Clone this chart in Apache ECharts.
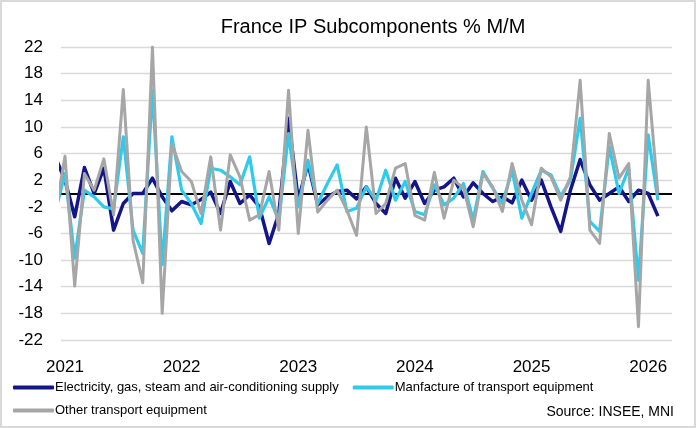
<!DOCTYPE html>
<html>
<head>
<meta charset="utf-8">
<script src="https://cdn.jsdelivr.net/npm/echarts@6/dist/echarts.min.js"></script>
<style>
  html, body { margin: 0; padding: 0; background: #fff; }
  #chart { width: 696px; height: 428px; box-sizing: border-box; border: 2px solid #d9d9d9; }
</style>
</head>
<body>
<div id="chart"></div>
<script>
// month index 0 = Jan 2021; first value is Dec 2020 (clipped at the plot edge)
const startIndex = -1;
const yearLabels = ["2021", "2022", "2023", "2024", "2025", "2026"];
const yTicks = [-22, -18, -14, -10, -6, -2, 2, 6, 10, 14, 18, 22];

const seriesNames = [
  "Electricity, gas, steam and air-conditioning supply",
  "Manfacture of transport equipment",
  "Other transport equipment"
];

// Dec 2020 .. Feb 2026
const electricity = [
  5.5, 2.0, -3.5, 3.9, 0.0, 3.8, -5.5, -1.5, 0.0, 0.0, 2.3, -0.5, -2.6,
  -1.2, -1.7, -0.9, 0.2, -3.0, 1.8, -1.5, -0.2, -2.0, -7.5, -3.0, 11.3,
  -1.0, 4.5, -1.7, -0.5, 0.3, 0.5, -0.8, 1.0, -1.5, -3.0, 2.3, -0.7,
  1.8, -1.5, 0.5, 1.0, 2.3, -0.5, 1.6, 0.0, -1.2, -0.5, -1.4, 2.0,
  -1.0, 2.0, -2.0, -5.7, 0.5, 5.1, 1.3, -1.0, 0.0, 1.0, -1.2, 0.5, 0.0, -3.4
];
const transportMfg = [
  -2.8, 3.0, -9.7, 0.5, -0.5, -2.0, -2.3, 8.5, -5.5, -9.0, 15.5, -10.7, 8.5,
  0.5, -1.5, -4.5, 3.8, 3.5, 2.5, 1.3, 5.5, -3.7, -0.5, -4.0, 9.0,
  -2.0, 5.0, -1.5, 1.5, 4.3, -2.7, -2.2, 1.0, -1.0, 3.5, -1.0, 1.8,
  -2.7, -3.2, 1.3, -1.7, -0.7, 1.5, -4.0, 3.3, 0.8, -1.5, 3.5, -3.7,
  0.0, 3.5, 2.8, -0.4, 2.0, 11.3, -4.2, -5.7, 7.0, 0.0, 3.8, -13.0, 8.8, -1.0
];
const otherTransport = [
  -3.0, 5.6, -13.9, 3.0, 0.5, 5.2, -3.2, 15.6, -7.0, -13.4, 22.0, -18.0, 7.5,
  3.3, 1.8, -3.0, 5.5, -5.5, 5.8, 2.5, -4.0, -3.2, 3.3, -5.5, 15.5,
  -6.0, 9.5, -2.8, -1.0, 0.5, -2.5, -6.3, 10.0, -3.0, -1.5, 3.8, 4.5,
  -3.3, -4.0, 3.2, -3.7, 2.0, 0.8, -5.0, 3.0, 1.0, -2.7, 4.5, -1.0,
  -4.7, 3.8, 2.5, -1.0, 2.5, 17.0, -5.5, -7.5, 9.0, 2.3, 4.5, -20.0, 17.0, 0.0
];

const colors = ["#15158a", "#2fcbec", "#a6a6a6"];
const lineWidths = [3.5, 3.2, 3];
const valueSets = [electricity, transportMfg, otherTransport];

const numFont = "'Liberation Sans', Arial, sans-serif";
const narrowFont = "'Liberation Sans Narrow', 'Arial Narrow', 'Liberation Sans', sans-serif";

const chart = echarts.init(document.getElementById("chart"));

const series = valueSets.map((vals, i) => ({
  name: seriesNames[i],
  type: "line",
  data: vals.map((v, k) => [k + startIndex, v]),
  showSymbol: false,
  symbol: "none",
  clip: true,
  lineStyle: { color: colors[i], width: lineWidths[i], join: "round" },
  itemStyle: { color: colors[i] },
  z: 3 + i,
  markLine: i === 0 ? {
    silent: true,
    symbol: "none",
    label: { show: false },
    lineStyle: { color: "#000", width: 2, type: "solid" },
    data: [{ yAxis: 0 }],
    z: 2
  } : undefined
}));

chart.setOption({
  animation: false,
  backgroundColor: "#fff",
  title: {
    text: "France IP Subcomponents % M/M",
    left: 366,
    top: 10,
    textAlign: "center",
    textStyle: { fontFamily: numFont, fontSize: 20, fontWeight: "normal", color: "#000" }
  },
  grid: { left: 59, right: 22, top: 45, bottom: 86, containLabel: false },
  legend: [
    {
      data: [seriesNames[0], seriesNames[1]],
      left: 6, top: 374,
      icon: "roundRect", itemWidth: 41, itemHeight: 4, itemGap: 14,
      textStyle: { fontFamily: narrowFont, fontSize: 13, color: "#000", padding: [0, 0, 0, -4] }
    },
    {
      data: [seriesNames[2]],
      left: 6, top: 397,
      icon: "roundRect", itemWidth: 41, itemHeight: 4,
      textStyle: { fontFamily: narrowFont, fontSize: 13, color: "#000", padding: [0, 0, 0, -4] }
    }
  ],
  graphic: [{
    type: "text",
    right: 20, top: 403,
    style: { text: "Source: INSEE, MNI", font: "14px " + narrowFont, fill: "#000" }
  }],
  xAxis: {
    type: "value",
    min: -0.41,
    max: 62.45,
    axisLine: { show: false },
    axisTick: { show: false },
    splitLine: { show: false },
    axisLabel: {
      customValues: yearLabels.map((_, i) => i * 12),
      formatter: (v) => yearLabels[Math.round(v / 12)],
      fontFamily: numFont, fontSize: 17, color: "#000", margin: 19
    }
  },
  yAxis: {
    type: "value",
    min: -22, max: 22, interval: 4,
    axisLine: { show: false },
    axisTick: { show: false },
    splitLine: { lineStyle: { color: "#d9d9d9", width: 1.3 } },
    axisLabel: { fontFamily: numFont, fontSize: 17, color: "#000", margin: 18 }
  },
  series: series
});
</script>
</body>
</html>
